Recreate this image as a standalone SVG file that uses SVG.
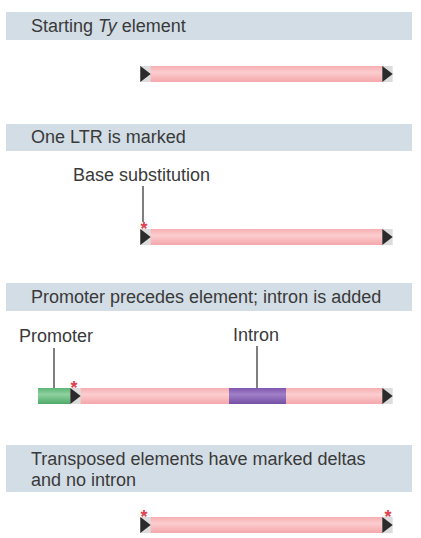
<svg xmlns="http://www.w3.org/2000/svg" width="421" height="538" viewBox="0 0 421 538">
<defs>
<linearGradient id="pink" x1="0" y1="0" x2="0" y2="1">
<stop offset="0" stop-color="#f5aeb1"/><stop offset="0.4" stop-color="#fccdcf"/><stop offset="1" stop-color="#f4a7ab"/>
</linearGradient>
<linearGradient id="green" x1="0" y1="0" x2="0" y2="1">
<stop offset="0" stop-color="#5cb676"/><stop offset="0.4" stop-color="#8fd0a0"/><stop offset="1" stop-color="#4eaa68"/>
</linearGradient>
<linearGradient id="purple" x1="0" y1="0" x2="0" y2="1">
<stop offset="0" stop-color="#7f57ad"/><stop offset="0.4" stop-color="#a07fc8"/><stop offset="1" stop-color="#7550a4"/>
</linearGradient>
<symbol id="ltr" viewBox="0 0 11 17" overflow="visible">
<rect x="0" y="0" width="11" height="17" fill="#dcdcdc"/>
<polygon points="0,0 11,8.5 0,17" fill="#2b2b2b"/>
</symbol>
</defs>
<style>
.hdr{fill:#d2dde5}
.t{font-family:"Liberation Sans",Arial,Helvetica,sans-serif;font-size:18px;fill:#3a3a3a}
.bar{fill:url(#pink)}
.ln{stroke:#555;stroke-width:1.5;fill:none}
.st{font-family:"Liberation Sans",Arial,sans-serif;font-size:18px;font-weight:bold;fill:#e0414f}
</style>

<g id="panel1">
<rect class="hdr" x="6" y="12" width="406" height="28"/>
<text class="t" x="31" y="32">Starting <tspan font-style="italic">Ty</tspan> element</text>
</g>
<g id="element1">
<rect class="bar" x="140" y="66" width="252" height="16"/>
<use href="#ltr" x="140" y="66" width="11" height="16"/>
<use href="#ltr" x="382" y="66" width="11" height="16"/>
</g>

<g id="panel2">
<rect class="hdr" x="6" y="124" width="406" height="27"/>
<text class="t" x="31" y="143">One LTR is marked</text>
</g>
<g id="label-base">
<text class="t" x="73" y="181">Base substitution</text>
</g>
<g id="element2">
<rect class="bar" x="140" y="229" width="252" height="16"/>
<use href="#ltr" x="140" y="229" width="11" height="16"/>
<use href="#ltr" x="382" y="229" width="11" height="16"/>
<text class="st" x="144" y="235" text-anchor="middle">*</text>
</g>

<g id="panel3">
<rect class="hdr" x="6" y="283" width="406" height="28"/>
<text class="t" x="31" y="303">Promoter precedes element; intron is added</text>
</g>
<g id="label-promoter">
<text class="t" x="19" y="342">Promoter</text>
</g>
<g id="label-intron">
<text class="t" x="233" y="341">Intron</text>
</g>
<g id="element3">
<rect class="bar" x="70" y="388" width="322" height="16"/>
<rect x="38" y="388" width="32" height="16" fill="url(#green)"/>
<rect x="229" y="388" width="57" height="16" fill="url(#purple)"/>
<use href="#ltr" x="70" y="388" width="11" height="16"/>
<use href="#ltr" x="382" y="388" width="11" height="16"/>
<text class="st" x="74" y="394" text-anchor="middle">*</text>
</g>

<g id="panel4">
<rect class="hdr" x="6" y="445" width="406" height="47"/>
<text class="t" x="31" y="465">Transposed elements have marked deltas</text>
<text class="t" x="31" y="486">and no intron</text>
</g>
<g id="element4">
<rect class="bar" x="140" y="517" width="252" height="16"/>
<use href="#ltr" x="140" y="517" width="11" height="16"/>
<use href="#ltr" x="382" y="517" width="11" height="16"/>
<text class="st" x="144" y="523" text-anchor="middle">*</text>
<text class="st" x="388" y="523" text-anchor="middle">*</text>
</g>

<g id="connectors">
<line class="ln" x1="143" y1="186" x2="143" y2="222"/>
<line class="ln" x1="54" y1="348" x2="54" y2="388"/>
<line class="ln" x1="257" y1="346" x2="257" y2="388"/>
</g>
</svg>
